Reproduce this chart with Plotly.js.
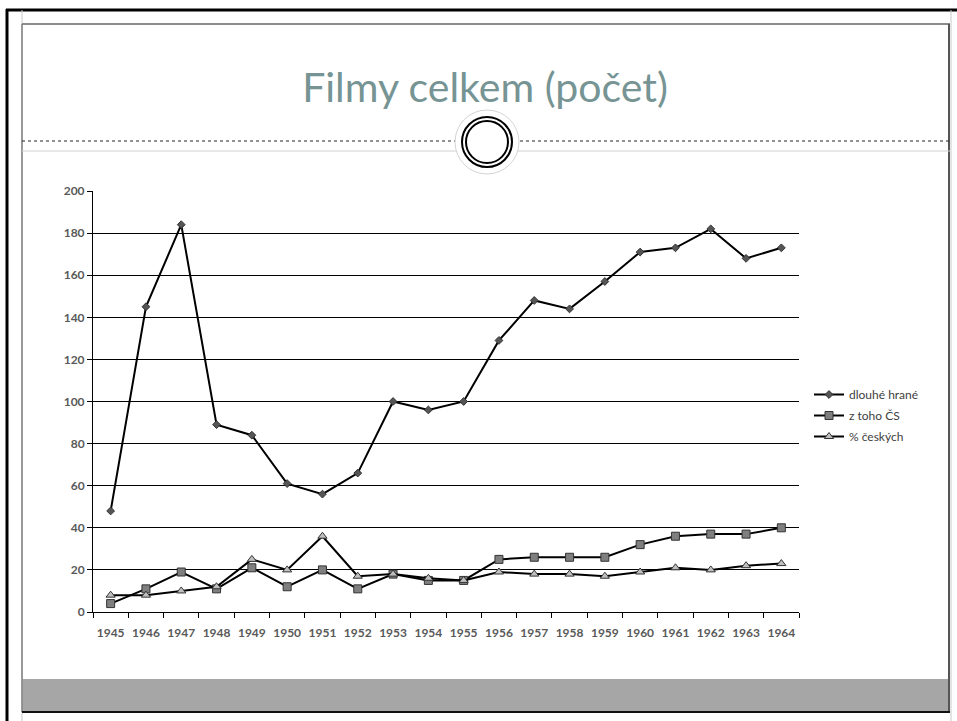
<!DOCTYPE html>
<html>
<head>
<meta charset="utf-8">
<script src="https://cdn.plot.ly/plotly-3.0.1.min.js"></script>
<style>html,body{margin:0;padding:0;background:#fff;}#chart{width:957px;height:721px;}</style>
</head>
<body>
<div id="chart"></div>
<script>
const years = ['1945','1946','1947','1948','1949','1950','1951','1952','1953','1954','1955','1956','1957','1958','1959','1960','1961','1962','1963','1964'];
const dlouheHrane = [48,145,184,89,84,61,56,66,100,96,100,129,148,144,157,171,173,182,168,173];
const zTohoCS = [4,11,19,11,21,12,20,11,18,15,15,25,26,26,26,32,36,37,37,40];
const procentCeskych = [8,8,10,12,25,20,36,17,18,16,15,19,18,18,17,19,21,20,22,23];
const seriesNames = ['dlouhé hrané','z toho ČS','% českých'];
const yTicks = [0,20,40,60,80,100,120,140,160,180,200];

const W = 957, H = 721;
const L = 93, R = 799, T = 191, B = 612;
const px = v => (v - L) / (R - L);
const py = v => (B - v) / (B - T);

function line(x0,y0,x1,y1,color,width,dash){
  return {type:'line',xref:'paper',yref:'paper',x0:px(x0),y0:py(y0),x1:px(x1),y1:py(y1),
    line:{color:color,width:width,dash:dash||'solid'}};
}
function circle(cx,cy,r,color,width,fill){
  return {type:'circle',xref:'paper',yref:'paper',x0:px(cx-r),x1:px(cx+r),y0:py(cy+r),y1:py(cy-r),
    line:{color:color,width:width},fillcolor:fill||'rgba(0,0,0,0)'};
}

const shapes = [
  {type:'rect',xref:'paper',yref:'paper',x0:px(22),x1:px(950),y0:py(712),y1:py(679),fillcolor:'#a6a6a6',line:{width:0}},
  line(6,10,957,10,'#000',3),
  line(7,9,7,721,'#000',3),
  line(22,10,22,721,'#c8c8c8',1),
  line(951,10,951,721,'#c8c8c8',1),
  line(22,24,950,24,'#666',1.5),
  line(22,24,22,712,'#808080',1.5),
  line(949,24,949,712,'#555',2),
  line(22,712,950,712,'#111',2),
  line(22,141,950,141,'#222',1,'dot'),
  line(22,151,950,151,'#d0d0d0',1),
  circle(487,142,32,'#d4d4d4',1,'#ffffff'),
  circle(487,142,25,'#000',2),
  circle(487,142,21,'#000',2)
];

const traces = [
  {x:years,y:dlouheHrane,name:seriesNames[0],type:'scatter',mode:'lines+markers',legendgroup:'a',
   line:{color:'#000',width:2},marker:{symbol:'diamond',size:6,color:'#555',line:{color:'#333',width:1}}},
  {x:years,y:zTohoCS,name:seriesNames[1],type:'scatter',mode:'lines+markers',legendgroup:'b',
   line:{color:'#000',width:2},marker:{symbol:'square',size:8,color:'#7f7f7f',line:{color:'#333',width:1}}},
  {x:years,y:procentCeskych,name:seriesNames[2],type:'scatter',mode:'lines+markers',legendgroup:'c',
   line:{color:'#000',width:2},marker:{symbol:'triangle-up',size:8,color:'#bfbfbf',line:{color:'#333',width:1}}}
];

const tickFont = {family:'Lato, "Open Sans", sans-serif',size:12,color:'#595959',weight:'bold'};

const layout = {
  width:W,height:H,
  margin:{l:L,r:W-R,t:T,b:H-B,pad:0},
  paper_bgcolor:'#fff',plot_bgcolor:'#fff',
  showlegend:true,
  title:{text:'Filmy celkem (počet)',x:485/W,y:1-88/H,xref:'container',yref:'container',xanchor:'center',yanchor:'middle',
    font:{family:'Lato, "Open Sans", sans-serif',size:41,color:'#769494'}},
  xaxis:{type:'category',tickson:'boundaries',ticks:'outside',ticklen:5,tickcolor:'#000',tickwidth:1,tickangle:0,
    ticklabelstandoff:10,
    showline:true,linecolor:'#000',linewidth:1,showgrid:false,zeroline:false,tickfont:tickFont,
    range:[-0.5,19.5],fixedrange:true},
  yaxis:{range:[0,200],tickvals:yTicks,ticks:'outside',ticklen:5,tickcolor:'#000',tickwidth:1,
    showline:true,linecolor:'#000',linewidth:1,showgrid:true,gridcolor:'#000',gridwidth:1,zeroline:false,
    tickfont:tickFont,fixedrange:true},
  legend:{x:px(809),xanchor:'left',y:py(380),yanchor:'top',font:{family:'Lato, "Open Sans", sans-serif',size:12,color:'#404040'},
    itemwidth:30,tracegroupgap:2,bgcolor:'rgba(0,0,0,0)'},
  shapes:shapes
};

Plotly.newPlot('chart',traces,layout,{staticPlot:true,displayModeBar:false});
</script>
</body>
</html>
